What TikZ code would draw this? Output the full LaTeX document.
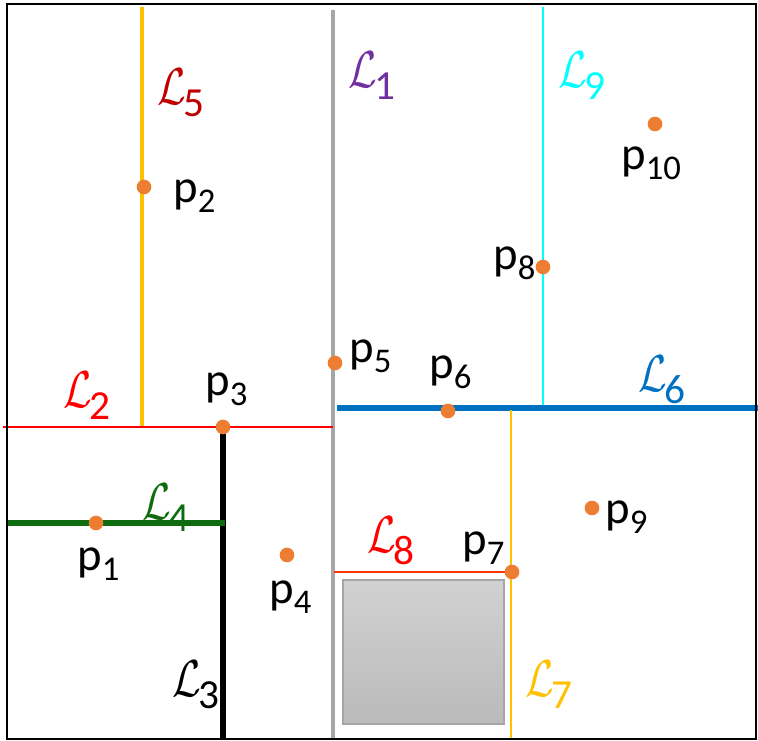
\RequirePackage{fix-cm}
\documentclass[tikz,border=0pt]{standalone}
\usepackage{graphicx}
\usepackage{fontspec}
\setmainfont{Carlito}
\definecolor{dotor}{HTML}{ED7D31}
\definecolor{yel}{HTML}{FFC000}
\definecolor{dred}{HTML}{C00000}
\definecolor{lgray}{HTML}{A6A6A6}
\definecolor{purp}{HTML}{7030A0}
\definecolor{cyn}{HTML}{00FFFF}
\definecolor{blu}{HTML}{0070C0}
\definecolor{dgreen}{HTML}{0F6B0F}
\definecolor{redor}{HTML}{FF3300}
\newcommand\plab[1]{\fontsize{35}{35}\selectfont p\raisebox{-7.5pt}{\fontsize{26}{26}\selectfont #1}}
\newcommand\Llab[1]{\scalebox{0.8}[1]{\fontsize{39}{39}\selectfont$\mathcal{L}$}\kern-1.5pt\raisebox{-9pt}{\fontsize{31}{31}\selectfont #1}}
\tikzset{
  dot/.style={circle,fill=dotor,inner sep=0pt,minimum size=11pt},
  lab/.style={anchor=base west,inner sep=0pt}
}
\begin{document}
\begin{tikzpicture}[x=0.75pt,y=-0.75pt]
\useasboundingbox (0,0) rectangle (758,741);
\fill[white] (0,0) rectangle (758,741);
% obstacle
\shade[top color=black!18,bottom color=black!27] (343,580) rectangle (504,724);
\draw[lgray,line width=0.9pt] (343,580) rectangle (504,724);
% lines
\draw[yel,line width=3pt] (142,7) -- (142,427);
\draw[lgray,line width=3pt] (333,10) -- (333,740);
\draw[cyn,line width=1.6pt] (543,7) -- (543,408);
\draw[red,line width=1.5pt] (3,427) -- (333,427);
\draw[blu,line width=4pt] (337,408) -- (758,408);
\draw[black,line width=4pt] (223,427) -- (223,740);
\draw[dgreen,line width=4pt] (7,523) -- (225,523);
\draw[redor,line width=1.5pt] (334,572) -- (512,572);
\draw[yel,line width=1.6pt] (511,410) -- (511,740);
% border
\draw[black,line width=1.6pt] (7,4) rectangle (756,739);
% points
\node[dot] (p1) at (96,523) {};
\node[dot] (p2) at (144,187) {};
\node[dot] (p3) at (223,427) {};
\node[dot] (p4) at (287,555) {};
\node[dot] (p5) at (335,363) {};
\node[dot] (p6) at (448,411) {};
\node[dot] (p7) at (512,572) {};
\node[dot] (p8) at (543,267) {};
\node[dot] (p9) at (592,508) {};
\node[dot] (p10) at (655,124) {};
% point labels
\node[lab] (tp1) at (77,571) {\plab{1}};
\node[lab] (tp2) at (173,203) {\plab{2}};
\node[lab] (tp3) at (205,396) {\plab{3}};
\node[lab] (tp4) at (269,604) {\plab{4}};
\node[lab] (tp5) at (349,363) {\plab{5}};
\node[lab] (tp6) at (429,379) {\plab{6}};
\node[lab] (tp7) at (462,555) {\plab{7}};
\node[lab] (tp8) at (493,270) {\plab{8}};
\node[lab] (tp9) at (605,524) {\plab{9}};
\node[lab] (tp10) at (621,170) {\plab{10}};
% line labels
\node[lab,text=purp] (L1) at (348,88) {\Llab{1}};
\node[lab,text=red] (L2) at (63,408) {\Llab{2}};
\node[lab,text=black] (L3) at (172,697) {\Llab{3}};
\node[lab,text=dgreen] (L4) at (142,520) {\Llab{4}};
\node[lab,text=dred] (L5) at (157,105) {\Llab{5}};
\node[lab,text=blu] (L6) at (638,392) {\Llab{6}};
\node[lab,text=yel] (L7) at (525,697) {\Llab{7}};
\node[lab,text=red] (L8) at (367,553) {\Llab{8}};
\node[lab,text=cyn] (L9) at (558,88) {\Llab{9}};
\end{tikzpicture}
\end{document}
